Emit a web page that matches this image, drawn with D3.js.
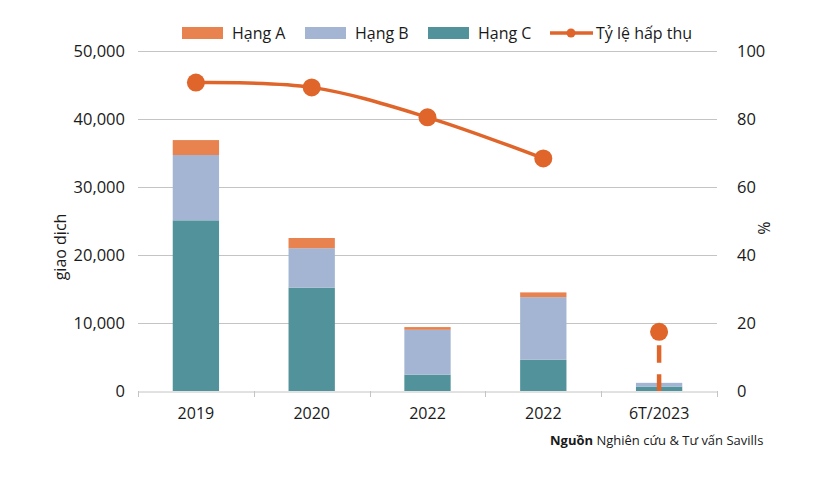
<!DOCTYPE html>
<html><head><meta charset="utf-8">
<script src="https://cdn.jsdelivr.net/npm/d3@7"></script>
<style>
body{margin:0;background:#fff;}
text{font-family:"Open Sans",sans-serif;fill:#1a1a1a;}
</style></head>
<body><svg id="c" width="820" height="478"></svg>
<script>
const categories = ["2019","2020","2022","2022 ","6T/2023"];
const catLabels = ["2019","2020","2022","2022","6T/2023"];
const hangC = [25100, 15200, 2400, 4600, 650];
const hangB = [9600, 5800, 6600, 9200, 550];
const hangA = [2200, 1500, 400, 700, 0];
const absorption = [90.7, 89.3, 80.5, 68.4, 17.4];
const leftTicks = [0,10000,20000,30000,40000,50000];
const rightTicks = [0,20,40,60,80,100];
const seriesNames = ["Hạng A","Hạng B","Hạng C","Tỷ lệ hấp thụ"];
const colors = {A:"#E8834F", B:"#A3B5D2", C:"#52939B", line:"#E0652B", grid:"#C4C4C4"};

const svg = d3.select("#c");
const m = {l:138, r:717, t:51, b:391};
const x = d3.scaleBand().domain(categories).range([m.l, m.r]).padding(0);
const yL = d3.scaleLinear().domain([0,50000]).range([m.b, m.t]);
const yR = d3.scaleLinear().domain([0,100]).range([m.b, m.t]);
const barW = x.bandwidth()*0.4;

// gridlines
svg.append("g").selectAll("line").data(leftTicks.slice(1)).join("line")
  .attr("x1", m.l).attr("x2", m.r)
  .attr("y1", d=>yL(d)+0.5).attr("y2", d=>yL(d)+0.5)
  .attr("stroke", colors.grid).attr("stroke-width",1);

// bars
const data = categories.map((c,i)=>({cat:c, C:hangC[i], B:hangB[i], A:hangA[i]}));
const stack = d3.stack().keys(["C","B","A"])(data);
svg.append("g").selectAll("g").data(stack).join("g")
  .attr("fill", s=>colors[s.key])
  .selectAll("rect").data(s=>s).join("rect")
  .attr("x", d=>x(d.data.cat)+x.bandwidth()/2-barW/2)
  .attr("width", barW)
  .attr("y", d=>yL(d[1]))
  .attr("height", d=>Math.max(0,yL(d[0])-yL(d[1])));

// bottom axis
const gx = svg.append("g").attr("transform",`translate(0,${m.b+0.5})`)
  .call(d3.axisBottom(x).tickSize(0).tickFormat((d,i)=>catLabels[i]));
gx.select(".domain").attr("stroke", colors.grid);
gx.selectAll("text").attr("font-size",16).attr("dy","1.55em").style("font-family","'Open Sans',sans-serif").attr("fill","#1a1a1a");
const bounds = categories.map(c=>x(c)).concat([x(categories[categories.length-1])+x.bandwidth()]);
svg.append("g").selectAll("line").data(bounds).join("line")
  .attr("x1",d=>Math.round(d)+0.5).attr("x2",d=>Math.round(d)+0.5)
  .attr("y1",m.b).attr("y2",m.b+6).attr("stroke",colors.grid);

// left axis
const gl = svg.append("g").attr("transform",`translate(${m.l-10},0)`)
  .call(d3.axisLeft(yL).tickValues(leftTicks).tickSize(0).tickFormat(d3.format(",")));
gl.select(".domain").remove();
gl.selectAll("text").attr("font-size",16.5).style("font-family","'Open Sans',sans-serif").attr("fill","#1a1a1a");

// right axis
const gr = svg.append("g").attr("transform",`translate(${m.r+17},0)`)
  .call(d3.axisRight(yR).tickValues(rightTicks).tickSize(0));
gr.select(".domain").remove();
gr.selectAll("text").attr("font-size",16.5).style("font-family","'Open Sans',sans-serif").attr("fill","#1a1a1a");

// axis titles
svg.append("text").attr("transform",`translate(66,247) rotate(-90)`)
  .attr("text-anchor","middle").attr("font-size",16).text("giao dịch");
svg.append("text").attr("transform",`translate(758,228) rotate(90)`)
  .attr("text-anchor","middle").attr("font-size",16).text("%");

// line
const cx = (i)=>x(categories[i])+x.bandwidth()/2;
const linePts = absorption.slice(0,4).map((v,i)=>[cx(i), yR(v)]);
svg.append("path").attr("d", d3.line().curve(d3.curveCatmullRom.alpha(0.5))(linePts))
  .attr("fill","none").attr("stroke",colors.line).attr("stroke-width",3.5);
// dashed drop for last point
const li = absorption.length-1;
svg.append("line").attr("x1",cx(li)).attr("x2",cx(li))
  .attr("y1",yR(absorption[li])).attr("y2",yR(0))
  .attr("stroke",colors.line).attr("stroke-width",4.5)
  .attr("stroke-dasharray","0,13.3,17.7,11.3,17.7,11.3");
svg.append("g").selectAll("circle").data(absorption).join("circle")
  .attr("cx",(d,i)=>cx(i)).attr("cy",d=>yR(d)).attr("r",9)
  .attr("fill",colors.line);

// legend
const lg = svg.append("g").attr("font-size",16);
const legendX = [182, 305, 428];
["A","B","C"].forEach((k,i)=>{
  lg.append("rect").attr("x",legendX[i]).attr("y",27).attr("width",41).attr("height",12).attr("fill",colors[k]);
  lg.append("text").attr("x",legendX[i]+50).attr("y",39).text(seriesNames[i]);
});
lg.append("line").attr("x1",550).attr("x2",593).attr("y1",33).attr("y2",33).attr("stroke",colors.line).attr("stroke-width",3.5);
lg.append("circle").attr("cx",571).attr("cy",33).attr("r",4.5).attr("fill",colors.line);
lg.append("text").attr("x",596).attr("y",39).text(seriesNames[3]);

// source
const src = svg.append("text").attr("x",550).attr("y",445).attr("font-size",13);
src.append("tspan").attr("font-weight","bold").text("Nguồn");
src.append("tspan").text(" Nghiên cứu & Tư vấn Savills");
</script></body></html>
